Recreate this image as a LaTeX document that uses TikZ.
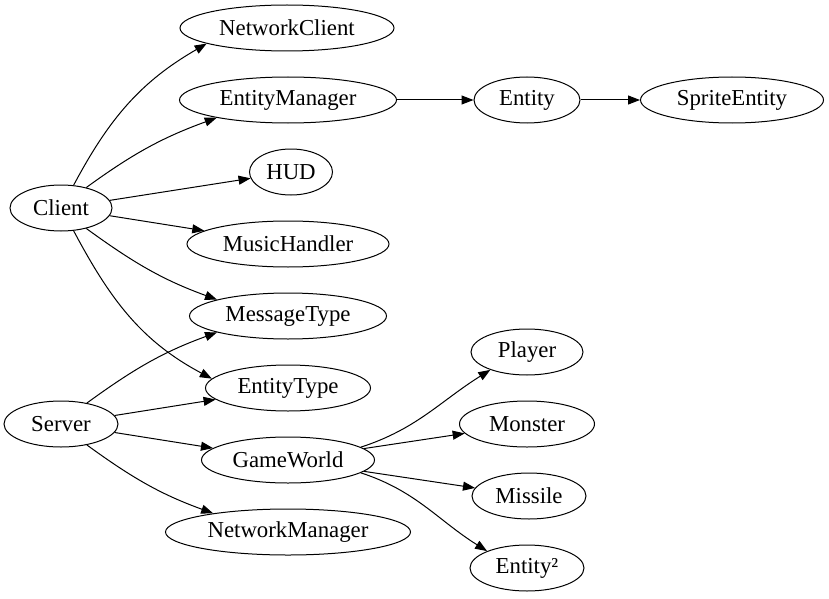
\documentclass[tikz,border=0pt]{standalone}
\usepackage{fontspec}
\setmainfont{Liberation Serif}
\usetikzlibrary{shapes.geometric,arrows.meta}

\begin{document}
\begin{tikzpicture}[
		x=0.5pt, y=-0.5pt,
		cls/.style={ellipse, draw, line width=0.5pt, inner sep=0pt, minimum height=23pt, font=\fontsize{11.4}{13}\selectfont},
		dep/.style={line width=0.5pt, -{Triangle[length=6pt, width=4.5pt]}}
		]
		
		% Canvas
		\useasboundingbox (0,0) rectangle (829,599);
		
		% Client side
		\node[cls, minimum width=51pt] (client) at (61,208) {Client};
		\node[cls, minimum width=107pt] (nc) at (287,28) {NetworkClient};
		\node[cls, minimum width=108.5pt] (em) at (288,100) {EntityManager};
		\node[cls, minimum width=41.5pt] (hud) at (291,172) {HUD};
		\node[cls, minimum width=101pt] (music) at (288,244) {MusicHandler};
		\node[cls, minimum width=98.5pt] (msgtype) at (288,316) {MessageType};
		\node[cls, minimum width=82.5pt] (enttype) at (288,388) {EntityType};
		
		% Entity chain
		\node[cls, minimum width=53pt] (entity) at (527,100) {Entity};
		\node[cls, minimum width=91.5pt] (sprite) at (732,100) {SpriteEntity};
		
		% Server side
		\node[cls, minimum width=57pt] (server) at (61,424) {Server};
		\node[cls, minimum width=86.5pt] (gameworld) at (288,460) {GameWorld};
		\node[cls, minimum width=122.5pt] (netmgr) at (288,532) {NetworkManager};
		
		% Game objects
		\node[cls, minimum width=56pt] (player) at (527,352) {Player};
		\node[cls, minimum width=67.5pt] (monster) at (527,424) {Monster};
		\node[cls, minimum width=57pt] (missile) at (529,496) {Missile};
		\node[cls, minimum width=57pt] (entity2) at (527,568) {Entity²};
		
		% Client edges
		\draw[dep] (client.61) to[out=62, in=210] (nc.191);
		\draw[dep] (client.39) to[out=36, in=200] (em.194);
		\draw[dep] (client) -- (hud);
		\draw[dep] (client) -- (music);
		\draw[dep] (client.-39) to[out=-36, in=160] (msgtype.167);
		\draw[dep] (client.-61) to[out=-62, in=152] (enttype.173);
		
		% Entity edges
		\draw[dep] (em) -- (entity);
		\draw[dep] (entity) -- (sprite);
		
		% Server edges
		\draw[dep] (server.39) to[out=36, in=200] (msgtype.193);
		\draw[dep] (server) -- (enttype);
		\draw[dep] (server) -- (gameworld);
		\draw[dep] (server.-39) to[out=-36, in=160] (netmgr.166);
		
		% GameWorld edges
		\draw[dep] (gameworld.10) to[out=18, in=212] (player.206);
		\draw[dep] (gameworld) -- (monster);
		\draw[dep] (gameworld) -- (missile);
		\draw[dep] (gameworld.-10) to[out=-18, in=148] (entity2.157);
		
	\end{tikzpicture}
\end{document}
